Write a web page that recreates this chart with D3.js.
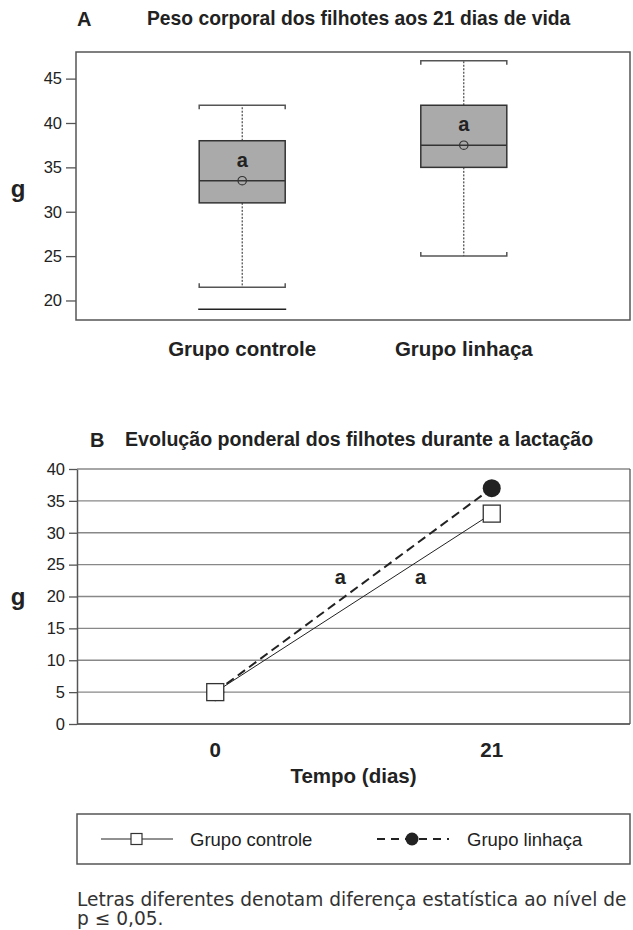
<!DOCTYPE html>
<html><head><meta charset="utf-8">
<script src="https://cdn.jsdelivr.net/npm/d3@7"></script>
<style>body{margin:0;background:#fff} svg{display:block}</style>
</head><body><svg id="c" width="633" height="930"></svg>
<script>
// ---- Panel A data ----
const groups = ["Grupo controle", "Grupo linhaça"];
const whiskerLow = [21.5, 25];
const q1 = [31, 35];
const median = [33.5, 37.5];
const q3 = [38, 42];
const whiskerHigh = [42, 47];
const meanVal = [33.5, 37.5];
const extraLow = [19, null];
const lettersA = ["a", "a"];
const letterYA = [35.8, 39.9];
const yTicksA = [20, 25, 30, 35, 40, 45];

// ---- Panel B data ----
const days = ["0", "21"];
const controle = [5, 33];
const linhaca = [5, 37];
const yTicksB = [0, 5, 10, 15, 20, 25, 30, 35, 40];
const lettersB = ["a", "a"];
const letterDayB = [9.5, 15.6];
const letterValB = [23.1, 23.1];

const svg = d3.select("#c");
const ink = "#222";
const axisCol = "#555";
const sans = "'Liberation Sans', Arial, Helvetica, sans-serif";

// ================= Panel A =================
const A = {l: 76, r: 630, t: 52, b: 320};
const xA = d3.scalePoint().domain(groups).range([A.l, A.r]).padding(0.75);
const yA = d3.scaleLinear().domain([17.8, 48]).range([A.b, A.t]);
const bw = 86;

svg.append("text").attr("x", 77).attr("y", 26).attr("font-family", sans)
  .attr("font-weight", "bold").attr("font-size", 20).attr("fill", ink).text("A");
svg.append("text").attr("x", 147).attr("y", 25).attr("font-family", sans)
  .attr("font-weight", "bold").attr("font-size", 19.3).attr("fill", ink)
  .text("Peso corporal dos filhotes aos 21 dias de vida");

// y axis
const gA = svg.append("g").attr("transform", `translate(${A.l},0)`)
  .call(d3.axisLeft(yA).tickValues(yTicksA).tickSize(10).tickPadding(4));
gA.select(".domain").remove();
gA.selectAll("line").attr("stroke", axisCol).attr("stroke-width", 1.3);
gA.selectAll("text").attr("font-family", sans).attr("font-size", 16.5).attr("fill", ink);

// frame
svg.append("rect").attr("x", A.l).attr("y", A.t).attr("width", A.r - A.l).attr("height", A.b - A.t)
  .attr("fill", "none").attr("stroke", axisCol).attr("stroke-width", 1.5);

svg.append("text").attr("x", 18).attr("y", 197).attr("font-family", sans)
  .attr("font-weight", "bold").attr("font-size", 24).attr("fill", ink).attr("text-anchor", "middle").text("g");

groups.forEach((g, i) => {
  const cx = xA(g);
  const grp = svg.append("g");
  // whiskers
  grp.append("line").attr("x1", cx).attr("x2", cx).attr("y1", yA(q3[i])).attr("y2", yA(whiskerHigh[i]))
    .attr("stroke", ink).attr("stroke-width", 1).attr("stroke-dasharray", "2,1.5");
  grp.append("line").attr("x1", cx).attr("x2", cx).attr("y1", yA(q1[i])).attr("y2", yA(whiskerLow[i]))
    .attr("stroke", ink).attr("stroke-width", 1).attr("stroke-dasharray", "2,1.5");
  // caps (bracket style)
  const hy = yA(whiskerHigh[i]), ly = yA(whiskerLow[i]);
  grp.append("path").attr("d", `M${cx - bw/2},${hy + 4}V${hy}H${cx + bw/2}V${hy + 4}`)
    .attr("fill", "none").attr("stroke", axisCol).attr("stroke-width", 1.5);
  grp.append("path").attr("d", `M${cx - bw/2},${ly - 4}V${ly}H${cx + bw/2}V${ly - 4}`)
    .attr("fill", "none").attr("stroke", axisCol).attr("stroke-width", 1.5);
  // box
  grp.append("rect").attr("x", cx - bw/2).attr("y", yA(q3[i])).attr("width", bw)
    .attr("height", yA(q1[i]) - yA(q3[i])).attr("fill", "#aaaaaa").attr("stroke", "#333").attr("stroke-width", 1.5);
  grp.append("line").attr("x1", cx - bw/2).attr("x2", cx + bw/2).attr("y1", yA(median[i])).attr("y2", yA(median[i]))
    .attr("stroke", "#333").attr("stroke-width", 1.5);
  grp.append("circle").attr("cx", cx).attr("cy", yA(meanVal[i])).attr("r", 4.2)
    .attr("fill", "none").attr("stroke", "#333").attr("stroke-width", 1.2);
  if (extraLow[i] != null) {
    grp.append("line").attr("x1", cx - bw/2 - 1).attr("x2", cx + bw/2 + 1).attr("y1", yA(extraLow[i])).attr("y2", yA(extraLow[i]))
      .attr("stroke", ink).attr("stroke-width", 1.5);
  }
  grp.append("text").attr("x", cx).attr("y", yA(letterYA[i]) + 7).attr("text-anchor", "middle")
    .attr("font-family", sans).attr("font-weight", "bold").attr("font-size", 20).attr("fill", ink).text(lettersA[i]);
  // x label
  svg.append("text").attr("x", cx).attr("y", 356).attr("text-anchor", "middle")
    .attr("font-family", sans).attr("font-weight", "bold").attr("font-size", 20.5).attr("fill", ink).text(g);
});

// ================= Panel B =================
const B = {l: 77, r: 630, t: 469, b: 724};
const xB = d3.scalePoint().domain(days).range([B.l, B.r]).padding(0.5);
const xBlin = d3.scaleLinear().domain([+days[0], +days[1]]).range([xB(days[0]), xB(days[1])]);
const yB = d3.scaleLinear().domain([0, 40]).range([B.b, B.t]);

svg.append("text").attr("x", 90).attr("y", 447).attr("font-family", sans)
  .attr("font-weight", "bold").attr("font-size", 20).attr("fill", ink).text("B");
svg.append("text").attr("x", 125).attr("y", 446).attr("font-family", sans)
  .attr("font-weight", "bold").attr("font-size", 19.6).attr("fill", ink)
  .text("Evolução ponderal dos filhotes durante a lactação");

// gridlines
svg.append("g").selectAll("line").data(yTicksB).join("line")
  .attr("x1", B.l).attr("x2", B.r).attr("y1", d => yB(d)).attr("y2", d => yB(d))
  .attr("stroke", "#888").attr("stroke-width", 1.3);
// right border
svg.append("line").attr("x1", B.r).attr("x2", B.r).attr("y1", B.t).attr("y2", B.b)
  .attr("stroke", axisCol).attr("stroke-width", 1.3);

const gB = svg.append("g").attr("transform", `translate(${B.l},0)`)
  .call(d3.axisLeft(yB).tickValues(yTicksB).tickSize(8).tickPadding(4).tickSizeOuter(0));
gB.select(".domain").attr("stroke", axisCol).attr("stroke-width", 1.5);
gB.selectAll("line").attr("stroke", axisCol).attr("stroke-width", 1.3);
gB.selectAll("text").attr("font-family", sans).attr("font-size", 16.5).attr("fill", ink);
svg.append("line").attr("x1", B.l).attr("x2", B.r).attr("y1", B.b).attr("y2", B.b)
  .attr("stroke", axisCol).attr("stroke-width", 1.5);

svg.append("text").attr("x", 18).attr("y", 605).attr("font-family", sans)
  .attr("font-weight", "bold").attr("font-size", 24).attr("fill", ink).attr("text-anchor", "middle").text("g");

const line = d3.line().x((d, i) => xB(days[i])).y(d => yB(d));
svg.append("path").attr("d", line(linhaca)).attr("fill", "none").attr("stroke", ink)
  .attr("stroke-width", 2).attr("stroke-dasharray", "9,5");
svg.append("path").attr("d", line(controle)).attr("fill", "none").attr("stroke", ink).attr("stroke-width", 1);

svg.append("g").selectAll("circle").data(linhaca).join("circle")
  .attr("cx", (d, i) => xB(days[i])).attr("cy", d => yB(d)).attr("r", 9).attr("fill", ink);
svg.append("g").selectAll("rect").data(controle).join("rect")
  .attr("x", (d, i) => xB(days[i]) - 8.5).attr("y", d => yB(d) - 8.5).attr("width", 17).attr("height", 17)
  .attr("fill", "#fff").attr("stroke", "#333").attr("stroke-width", 1.3);

lettersB.forEach((t, i) => {
  svg.append("text").attr("x", xBlin(letterDayB[i])).attr("y", yB(letterValB[i]) + 7).attr("text-anchor", "middle")
    .attr("font-family", sans).attr("font-weight", "bold").attr("font-size", 20).attr("fill", ink).text(t);
});

// x tick labels
days.forEach(d => {
  svg.append("text").attr("x", xB(d)).attr("y", 757).attr("text-anchor", "middle")
    .attr("font-family", sans).attr("font-weight", "bold").attr("font-size", 20.5).attr("fill", ink).text(d);
});
svg.append("text").attr("x", (xB(days[0]) + xB(days[1])) / 2).attr("y", 783).attr("text-anchor", "middle")
  .attr("font-family", sans).attr("font-weight", "bold").attr("font-size", 20.5).attr("fill", ink).text("Tempo (dias)");

// legend
const L = {l: 77, r: 630, t: 814, b: 864};
svg.append("rect").attr("x", L.l).attr("y", L.t).attr("width", L.r - L.l).attr("height", L.b - L.t)
  .attr("fill", "none").attr("stroke", axisCol).attr("stroke-width", 1.5);
const ly = 839;
svg.append("line").attr("x1", 101).attr("x2", 173).attr("y1", ly).attr("y2", ly).attr("stroke", ink).attr("stroke-width", 1);
svg.append("rect").attr("x", 131).attr("y", ly - 5.5).attr("width", 11).attr("height", 11)
  .attr("fill", "#fff").attr("stroke", "#333").attr("stroke-width", 1.2);
svg.append("text").attr("x", 190).attr("y", ly + 6.5).attr("font-family", sans).attr("font-size", 18.5)
  .attr("fill", ink).text(groups[0]);
svg.append("line").attr("x1", 377).attr("x2", 449).attr("y1", ly).attr("y2", ly).attr("stroke", ink)
  .attr("stroke-width", 2).attr("stroke-dasharray", "8,6");
svg.append("circle").attr("cx", 412).attr("cy", ly).attr("r", 6.5).attr("fill", ink);
svg.append("text").attr("x", 467).attr("y", ly + 6.5).attr("font-family", sans).attr("font-size", 18.5)
  .attr("fill", ink).text(groups[1]);

// footnote
const verd = "'DejaVu Sans', Verdana, sans-serif";
svg.append("text").attr("x", 77).attr("y", 906).attr("font-family", verd).attr("font-size", 18.6)
  .attr("fill", "#333").text("Letras diferentes denotam diferença estatística ao nível de");
svg.append("text").attr("x", 77).attr("y", 925).attr("font-family", verd).attr("font-size", 18.6)
  .attr("fill", "#333").text("p ≤ 0,05.");
</script></body></html>
